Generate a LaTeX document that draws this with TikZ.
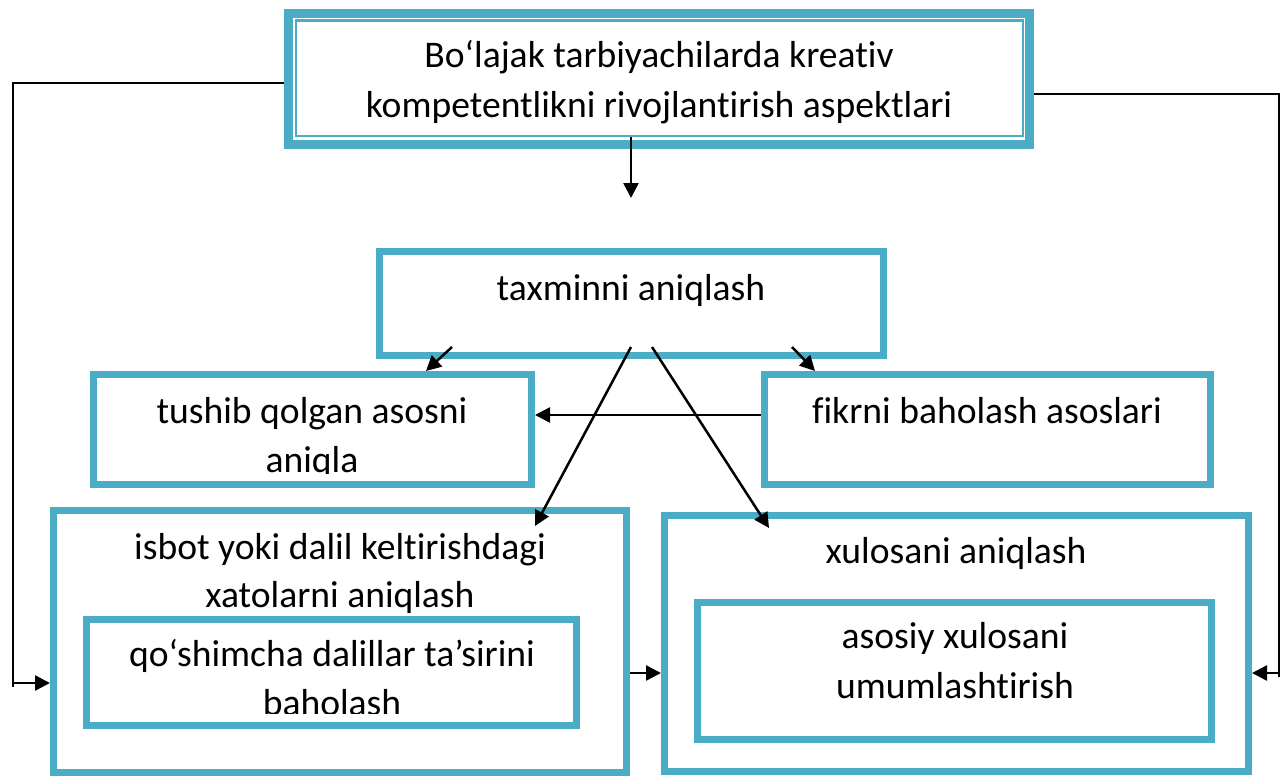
\documentclass[tikz,border=0pt]{standalone}
\usepackage{fontspec}
\setmainfont{Carlito}[Ligatures={NoCommon}]
\usetikzlibrary{fit,arrows.meta,calc}
\definecolor{boxteal}{HTML}{4BACC6}
\begin{document}
\begin{tikzpicture}[x=0.5pt,y=-0.5pt,
  box/.style={draw=boxteal,line width=3.5pt,inner sep=0pt},
  lbl/.style={anchor=base,inner sep=0pt,font=\fontsize{18.8}{22}\selectfont},
  plain/.style={line width=1.25pt},
  conn/.style={line width=1.25pt,-{Triangle[length=7.5pt,width=7.5pt]}}]
\path[use as bounding box] (0,0) rectangle (1286,776);

% boxes
\node[box,line width=4.5pt,fit={(288.5,13)(1029.5,144.5)}] (top) {};
\node[draw=boxteal,line width=1.2pt,inner sep=0pt,fit={(296,20.5)(1023,136)}] (topin) {};
\node[box,fit={(379.5,251.5)(883.5,355)}] (tax) {};
\node[box,fit={(93.5,374.5)(531.5,484)}] (tush) {};
\node[box,fit={(764,374.5)(1210.5,484)}] (fikr) {};
\node[box,fit={(53.5,510.5)(626.5,772)}] (isbot) {};
\node[box,fit={(86,619.5)(576.5,725)}] (qosh) {};
\node[box,fit={(664.5,515)(1248.5,771.5)}] (xul) {};
\node[box,fit={(697.5,602.5)(1211.5,739)}] (asos) {};

% texts
\node[lbl] (t1) at (659,68) {Bo‘lajak tarbiyachilarda kreativ};
\node[lbl] (t2) at (659,117) {kompetentlikni rivojlantirish aspektlari};
\node[lbl] (t3) at (631,300) {taxminni aniqlash};
\node[lbl] (t4) at (312,423) {tushib qolgan asosni};
\begin{scope}
  \clip (0,0) rectangle (1286,473.5);
  \node[lbl] (t5) at (312,472) {aniqla};
\end{scope}
\node[lbl] (t6) at (987,423) {fikrni baholash asoslari};
\node[lbl] (t7) at (340,559) {isbot yoki dalil keltirishdagi};
\node[lbl] (t8) at (340,607) {xatolarni aniqlash};
\node[lbl] (t9) at (332,666) {qo‘shimcha dalillar ta’sirini};
\begin{scope}
  \clip (0,0) rectangle (1286,713);
  \node[lbl] (t10) at (332,715) {baholash};
\end{scope}
\node[lbl] (t11) at (956,563) {xulosani aniqlash};
\node[lbl] (t12) at (955,648) {asosiy xulosani};
\node[lbl] (t13) at (955,698) {umumlashtirish};

% helper coordinates
\coordinate (lc) at (13,83);
\coordinate (lb) at (13,687);
\coordinate (la) at (13,683);
\coordinate (rc) at (1279,94);
\coordinate (rb) at (1279,677);
\coordinate (ra) at (1279,673);
\coordinate (dtip) at (631,198);
\coordinate (s1) at (452,347);
\coordinate (e1) at (426,373);
\coordinate (s2) at (792,347);
\coordinate (e2) at (815,373);
\coordinate (s3) at (631,347);
\coordinate (e3) at (535,526);
\coordinate (s4) at (652,347);
\coordinate (e4) at (769,528);
\coordinate (h1) at (762,415);
\coordinate (m1) at (631,673);

% connectors
\draw[plain] (top.west |- lc) -- (lc) -- (lb);
\draw[conn] (la) -- (isbot.west |- la);
\draw[plain] (top.east |- rc) -- (rc) -- (rb);
\draw[conn] (ra) -- (xul.east |- ra);
\draw[conn] ($(top.south -| dtip)+(0,-12)$) -- (dtip);
\draw[conn] (s1) -- (tush.north -| e1);
\draw[conn] (s2) -- (fikr.north -| e2);
\draw[conn] (s3) -- (e3);
\draw[conn] (s4) -- (e4);
\draw[conn] (fikr.west |- h1) -- (tush.east |- h1);
\draw[conn] (isbot.east |- m1) -- (xul.west |- m1);
\end{tikzpicture}
\end{document}
